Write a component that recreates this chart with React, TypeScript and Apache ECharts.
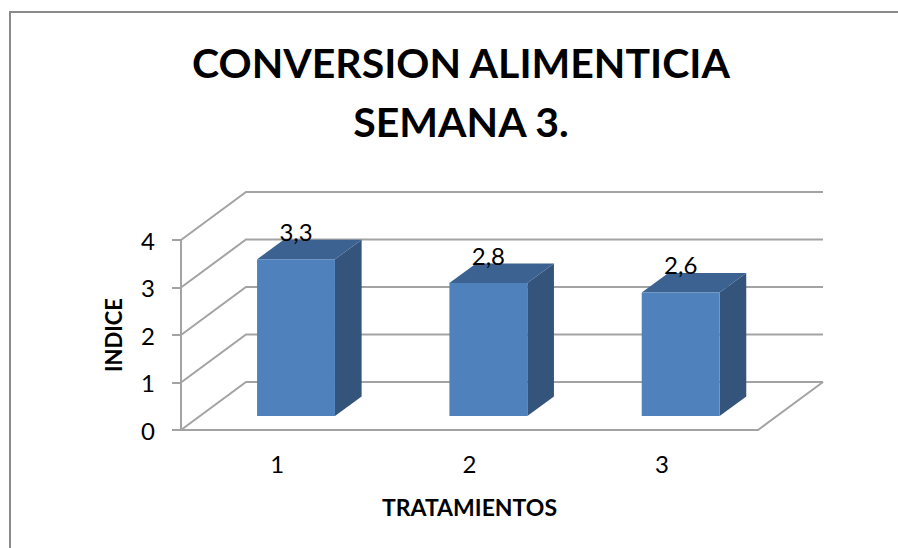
import React, { useEffect, useRef } from "react";
import * as echarts from "echarts";

const categories = ["1", "2", "3"];
const values = [3.3, 2.8, 2.6];
const yTicks = [0, 1, 2, 3, 4];
const titleText = "CONVERSION ALIMENTICIA\nSEMANA 3.";
const xName = "TRATAMIENTOS";
const yName = "INDICE";

const FONT = "Lato";
const DEPTH_X = 65;
const DEPTH_Y = 48;
const BAR_FRONT = 0.29;
const BAR_BACK = 0.7;
const BAR_RATIO = 0.405;
const GRID_COLOR = "#a3a3a3";

export default function App() {
  const ref = useRef<HTMLDivElement>(null);

  useEffect(() => {
    if (!ref.current) return;
    const chart = echarts.init(ref.current, null, { renderer: "svg" });

    const wallRender = (params: any, api: any) => {
      const v = api.value(1);
      const p = api.coord([0, v]);
      const band = api.size([1, 0])[0];
      const xL = p[0] - band / 2;
      const xR = xL + band * categories.length;
      const y = p[1];
      const children: any[] = [
        {
          type: "polyline",
          shape: {
            points: [
              [xL, y],
              [xL + DEPTH_X, y - DEPTH_Y],
              [xR + DEPTH_X, y - DEPTH_Y],
            ],
          },
          style: { stroke: GRID_COLOR, lineWidth: 2, fill: "none" },
        },
      ];
      if (v === 0) {
        children.push({
          type: "polyline",
          shape: {
            points: [
              [xL, y],
              [xR, y],
              [xR + DEPTH_X, y - DEPTH_Y],
            ],
          },
          style: { stroke: GRID_COLOR, lineWidth: 2, fill: "none" },
        });
      }
      return { type: "group", children };
    };

    const barRender = (params: any, api: any) => {
      const i = api.value(0);
      const v = api.value(1);
      const base = api.coord([i, 0]);
      const topP = api.coord([i, v]);
      const band = api.size([1, 0])[0];
      const w = band * BAR_RATIO;
      const ox = BAR_FRONT * DEPTH_X;
      const oy = BAR_FRONT * DEPTH_Y;
      const ddx = (BAR_BACK - BAR_FRONT) * DEPTH_X;
      const ddy = (BAR_BACK - BAR_FRONT) * DEPTH_Y;
      const L = base[0] - w / 2 + ox;
      const R = L + w;
      const yb = base[1] - oy;
      const yt = topP[1] - oy;
      return {
        type: "group",
        children: [
          {
            type: "polygon",
            shape: {
              points: [
                [R, yb],
                [R + ddx, yb - ddy],
                [R + ddx, yt - ddy],
                [R, yt],
              ],
            },
            style: { fill: "#34547c" },
          },
          {
            type: "polygon",
            shape: {
              points: [
                [L, yt],
                [L + ddx, yt - ddy],
                [R + ddx, yt - ddy],
                [R, yt],
              ],
            },
            style: { fill: "#3b6291" },
          },
          {
            type: "rect",
            shape: { x: L, y: yt, width: w, height: yb - yt },
            style: { fill: "#4f81bd" },
          },
          {
            type: "text",
            x: L + w / 2,
            y: yt - ddy - 8,
            style: {
              text: String(v).replace(".", ","),
              fontFamily: FONT,
              fontSize: 24,
              fill: "#000",
              align: "center",
              verticalAlign: "middle",
            },
          },
        ],
      };
    };

    chart.setOption({
      animation: false,
      backgroundColor: "#ffffff",
      title: {
        text: titleText,
        left: 461,
        top: 33,
        textAlign: "center",
        padding: 0,
        textStyle: {
          fontFamily: FONT,
          fontSize: 41,
          fontWeight: "bold",
          lineHeight: 59,
          color: "#000",
        },
      },
      graphic: [
        {
          type: "rect",
          shape: { x: 10, y: 12, width: 1000, height: 1000 },
          style: { fill: "none", stroke: "#8a8a8a", lineWidth: 2 },
          silent: true,
        },
      ],
      grid: { left: 181, top: 240, width: 577, height: 190 },
      xAxis: {
        type: "category",
        data: categories,
        axisLine: { show: false },
        axisTick: { show: false },
        axisLabel: { fontFamily: FONT, fontSize: 24, color: "#000", margin: 21 },
        name: xName,
        nameLocation: "middle",
        nameGap: 65,
        nameTextStyle: { fontFamily: FONT, fontSize: 23, fontWeight: "bold", color: "#000" },
      },
      yAxis: {
        type: "value",
        min: 0,
        max: 4,
        interval: 1,
        axisLine: { show: true, lineStyle: { color: GRID_COLOR, width: 2 } },
        axisTick: { show: true, length: 9, lineStyle: { color: GRID_COLOR, width: 2 } },
        axisLabel: { fontFamily: FONT, fontSize: 24, color: "#000", margin: 26 },
        splitLine: { show: false },
        name: yName,
        nameLocation: "middle",
        nameRotate: 90,
        nameGap: 57,
        nameTextStyle: { fontFamily: FONT, fontSize: 22, fontWeight: "bold", color: "#000" },
      },
      series: [
        {
          type: "custom",
          clip: false,
          silent: true,
          renderItem: wallRender,
          encode: { x: 0, y: 1 },
          data: yTicks.map((t) => [0, t]),
          z: 1,
        },
        {
          type: "custom",
          clip: false,
          renderItem: barRender,
          encode: { x: 0, y: 1 },
          data: values.map((v, i) => [i, v]),
          z: 2,
        },
      ],
    });

    return () => chart.dispose();
  }, []);

  return (
    <div
      ref={ref}
      style={{ position: "absolute", left: 0, top: 0, width: 898, height: 548 }}
    />
  );
}
